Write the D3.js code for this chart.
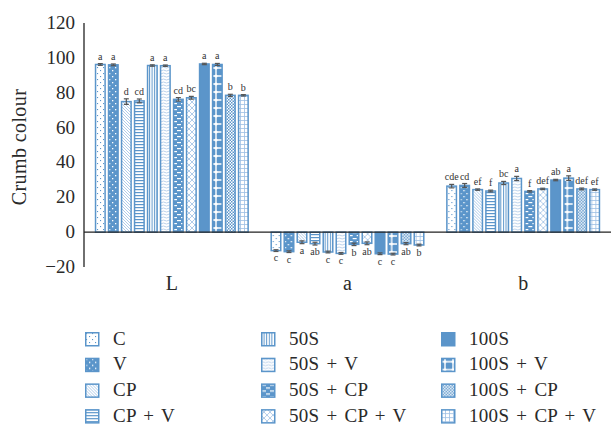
<!DOCTYPE html>
<html>
<head>
<meta charset="utf-8">
<script src="https://cdn.jsdelivr.net/npm/d3@7"></script>
<style>
  body { margin: 0; background: #fff; }
  svg { display: block; }
  svg text { font-family: 'Liberation Serif', 'Times New Roman', serif; }
</style>
</head>
<body>
<div id="chart"></div>
<script>
// Dane
const groups = ["L", "a", "b"];
const series = ["C", "V", "CP", "CP + V", "50S", "50S + V", "50S + CP", "50S + CP + V",
                "100S", "100S + V", "100S + CP", "100S + CP + V"];
const valuesL = [96.2, 96.0, 74.9, 75.3, 95.6, 95.5, 76.2, 77.1, 96.5, 96.2, 78.5, 78.5];
const valuesA = [-10.6, -11.2, -5.8, -6.6, -11.4, -12.2, -7.0, -6.4, -12.4, -12.6, -6.6, -7.4];
const valuesB = [26.4, 26.8, 24.4, 23.6, 28.2, 30.8, 23.4, 24.8, 29.9, 31.0, 24.8, 24.4];
const errL = [0.5, 0.5, 1.6, 1.1, 0.4, 0.4, 1.0, 0.8, 0.4, 0.6, 0.6, 0.4];
const errA = [0.5, 0.5, 0.8, 0.8, 0.5, 0.5, 0.7, 0.8, 0.5, 0.5, 0.6, 0.5];
const errB = [1.0, 1.1, 0.4, 0.5, 0.9, 1.2, 0.4, 0.4, 0.4, 1.3, 0.5, 0.4];
const lettersL = ["a", "a", "d", "cd", "a", "a", "cd", "bc", "a", "a", "b", "b"];
const lettersA = ["c", "c", "a", "ab", "c", "c", "b", "ab", "c", "c", "ab", "b"];
const lettersB = ["cde", "cd", "ef", "f", "bc", "a", "f", "def", "ab", "a", "def", "ef"];
const yTicks = [-20, 0, 20, 40, 60, 80, 100, 120];

const values = [valuesL, valuesA, valuesB];
const errors = [errL, errA, errB];
const letters = [lettersL, lettersA, lettersB];

const width = 611, height = 426;
const blue = "#5b95ca", light = "#9dbfe3";
const font = "'Liberation Serif', 'Times New Roman', serif";

const svg = d3.select("#chart").append("svg")
    .attr("width", width).attr("height", height)
    .attr("font-family", font);

// Wzory wypełnień
const defs = svg.append("defs");
function pattern(id, w, h, bg) {
  const p = defs.append("pattern").attr("id", id)
      .attr("patternUnits", "userSpaceOnUse").attr("width", w).attr("height", h);
  p.append("rect").attr("width", w).attr("height", h).attr("fill", bg);
  return p;
}
let p;
p = pattern("p0", 6, 6, "#fff");
p.append("rect").attr("x", 1).attr("y", 1).attr("width", 1.1).attr("height", 1.1).attr("fill", blue);
p.append("rect").attr("x", 4).attr("y", 4).attr("width", 1.1).attr("height", 1.1).attr("fill", blue);
p = pattern("p1", 6, 6, blue);
p.append("rect").attr("x", 1).attr("y", 1).attr("width", 1.3).attr("height", 1.3).attr("fill", "#fff");
p.append("rect").attr("x", 4).attr("y", 4).attr("width", 1.3).attr("height", 1.3).attr("fill", "#fff");
p = pattern("p2", 3, 3, "#fff");
p.append("path").attr("d", "M-1,-1L4,4M-1,2L1,4M2,-1L4,1").attr("stroke", light).attr("stroke-width", 0.8);
p = pattern("p3", 4, 3, "#fff");
p.append("rect").attr("y", 0).attr("width", 4).attr("height", 1.2).attr("fill", blue);
p = pattern("p4", 2.6, 4, "#fff");
p.append("rect").attr("x", 0).attr("width", 1).attr("height", 4).attr("fill", blue);
p = pattern("p5", 6, 3, "#fff");
p.append("path").attr("d", "M0,1.5Q1.5,0.5 3,1.5T6,1.5").attr("fill", "none").attr("stroke", light).attr("stroke-width", 0.7);
p = pattern("p6", 8, 6, blue);
p.append("rect").attr("x", 1).attr("y", 1).attr("width", 4).attr("height", 1.2).attr("fill", "#fff");
p.append("rect").attr("x", 5).attr("y", 4).attr("width", 4).attr("height", 1.2).attr("fill", "#fff");
p.append("rect").attr("x", -3).attr("y", 4).attr("width", 4).attr("height", 1.2).attr("fill", "#fff");
p = pattern("p7", 6, 6, "#fff");
p.append("path").attr("d", "M0,0L6,6M6,0L0,6").attr("stroke", light).attr("stroke-width", 0.8);
p = pattern("p8", 4, 4, blue);
p = pattern("p9", 8, 8, blue);
p.append("path").attr("d", "M4,0V8M0,4H8").attr("stroke", "#fff").attr("stroke-width", 1.4);
p.append("circle").attr("cx", 4).attr("cy", 4).attr("r", 1.6).attr("fill", "#fff");
p = pattern("p10", 3, 3, "#fff");
p.append("rect").attr("width", 1.5).attr("height", 1.5).attr("fill", blue);
p.append("rect").attr("x", 1.5).attr("y", 1.5).attr("width", 1.5).attr("height", 1.5).attr("fill", blue);
p = pattern("p11", 4, 4, "#fff");
p.append("path").attr("d", "M0.5,0V4M0,0.5H4").attr("stroke", light).attr("stroke-width", 0.8);

// Skale
const x0 = d3.scaleBand().domain(groups).range([84, 611]);
const x1 = d3.scaleBand().domain(series).range([0, x0.bandwidth()])
    .paddingInner(0.15).paddingOuter(0.83);
const y = d3.scaleLinear().domain([-20, 120]).range([267, 23]);

// Oś Y
svg.append("line").attr("x1", 84).attr("x2", 84).attr("y1", y(120)).attr("y2", y(-20))
    .attr("stroke", "#222").attr("stroke-width", 1.3);
svg.append("g").selectAll("text").data(yTicks).enter().append("text")
    .attr("x", 75).attr("y", d => y(d) + 6)
    .attr("text-anchor", "end").attr("font-size", 19).attr("fill", "#2a2a2a")
    .text(d => d < 0 ? "\u2212" + Math.abs(d) : d);

svg.append("text")
    .attr("transform", `translate(26,${(y(120) + y(-20)) / 2 + 2}) rotate(-90)`)
    .attr("text-anchor", "middle").attr("font-size", 20).attr("fill", "#2a2a2a")
    .attr("letter-spacing", 0.4)
    .text("Crumb colour");

// Słupki
const gGroups = svg.selectAll(".grp").data(groups).enter().append("g")
    .attr("class", "grp").attr("transform", d => `translate(${x0(d)},0)`);

gGroups.each(function(g, gi) {
  const sel = d3.select(this);
  const rows = series.map((s, i) => ({ s, i, v: values[gi][i], e: errors[gi][i], l: letters[gi][i] }));
  const bw = x1.bandwidth();

  sel.selectAll("rect.bar").data(rows).enter().append("rect")
      .attr("class", "bar")
      .attr("x", d => x1(d.s) + 0.75)
      .attr("width", bw - 1.5)
      .attr("y", d => Math.min(y(d.v), y(0)))
      .attr("height", d => Math.abs(y(d.v) - y(0)))
      .attr("fill", d => `url(#p${d.i})`)
      .attr("stroke", blue).attr("stroke-width", 1.5);

  // Słupki błędów
  const eb = sel.selectAll("g.err").data(rows).enter().append("g").attr("class", "err")
      .attr("stroke", "#555").attr("stroke-width", 1.2);
  eb.append("line")
      .attr("x1", d => x1(d.s) + bw / 2).attr("x2", d => x1(d.s) + bw / 2)
      .attr("y1", d => y(d.v - d.e)).attr("y2", d => y(d.v + d.e));
  eb.append("line")
      .attr("x1", d => x1(d.s) + bw / 2 - 2.5).attr("x2", d => x1(d.s) + bw / 2 + 2.5)
      .attr("y1", d => y(d.v - d.e)).attr("y2", d => y(d.v - d.e));
  eb.append("line")
      .attr("x1", d => x1(d.s) + bw / 2 - 2.5).attr("x2", d => x1(d.s) + bw / 2 + 2.5)
      .attr("y1", d => y(d.v + d.e)).attr("y2", d => y(d.v + d.e));

  // Litery istotności
  sel.selectAll("text.lab").data(rows).enter().append("text")
      .attr("class", "lab")
      .attr("x", d => x1(d.s) + bw / 2)
      .attr("y", d => d.v >= 0 ? y(d.v + d.e) - 4 : y(d.v - d.e) + 10)
      .attr("text-anchor", "middle").attr("font-size", 10).attr("fill", "#333")
      .text(d => d.l);
});

// Oś X (linia zera)
svg.append("line").attr("x1", 84).attr("x2", 611).attr("y1", y(0)).attr("y2", y(0))
    .attr("stroke", "#222").attr("stroke-width", 1.3);
svg.append("g").selectAll("text").data(groups).enter().append("text")
    .attr("x", d => x0(d) + x0.bandwidth() / 2).attr("y", 290)
    .attr("text-anchor", "middle").attr("font-size", 20).attr("fill", "#2a2a2a")
    .text(d => d);

// Legenda
const legX = [85, 261, 441];
const leg = svg.selectAll(".leg").data(series).enter().append("g").attr("class", "leg")
    .attr("transform", (d, i) => `translate(${legX[Math.floor(i / 4)]},${332 + (i % 4) * 25.7})`);
leg.append("rect").attr("x", 0.75).attr("y", 0.75).attr("width", 13).attr("height", 13)
    .attr("fill", (d, i) => `url(#p${i})`).attr("stroke", blue).attr("stroke-width", 1.5);
leg.append("text").attr("x", 28).attr("y", 12.5).attr("font-size", 19).attr("fill", "#2a2a2a")
    .attr("letter-spacing", 0.3).attr("word-spacing", 2)
    .text(d => d);
</script>
</body>
</html>
